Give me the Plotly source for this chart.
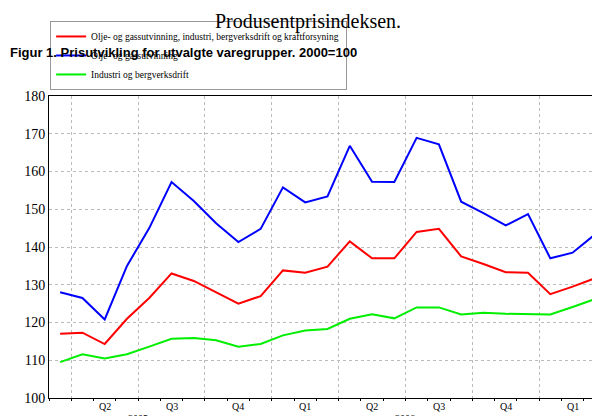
import plotly.graph_objects as go

months = list(range(25))  # Mar 2005 .. Mar 2007
red = [117, 117.3, 114.3, 121, 126.5, 133, 131, 128, 125, 127, 133.8, 133.2, 134.8, 141.5, 137, 137, 144, 144.8, 137.5, 135.5, 133.3, 133.2, 127.5, 129.5, 131.7]
blue = [128, 126.5, 120.8, 135, 145, 157.2, 152.2, 146.3, 141.3, 144.8, 155.8, 151.8, 153.4, 166.8, 157.3, 157.2, 168.9, 167.2, 152, 149, 145.7, 148.7, 137, 138.5, 143.3]
green = [109.5, 111.6, 110.5, 111.6, 113.6, 115.7, 115.9, 115.3, 113.6, 114.3, 116.6, 117.9, 118.3, 121, 122.2, 121.1, 124, 124, 122.1, 122.6, 122.3, 122.1, 122.1, 124.1, 126.2]
names = ["Olje- og gassutvinning, industri, bergverksdrift og kraftforsyning",
         "Olje- og gassutvinning", "Industri og bergverksdrift"]
qlabels = ["Q2", "Q3", "Q4", "Q1", "Q2", "Q3", "Q4", "Q1"]
years = ["2005", "2006"]

x = [m + 0.5 for m in months]
fig = go.Figure()
for vals, col, nm in [(red, "#ff0000", names[0]), (blue, "#0000ff", names[1]), (green, "#00ee00", names[2])]:
    fig.add_trace(go.Scatter(x=x, y=vals, mode="lines", name=nm, line=dict(color=col, width=2)))

fig.update_layout(
    width=600, height=416, plot_bgcolor="white", paper_bgcolor="white",
    margin=dict(l=41, r=2, t=88, b=26, autoexpand=False),
    font=dict(family="Liberation Serif", size=11, color="black"),
    title=dict(text="Produsentprisindeksen.", x=0.5, xanchor="center", y=0.985, yanchor="top",
               font=dict(family="Liberation Serif", size=20)),
    legend=dict(orientation="h", x=0.002, y=1.02, xanchor="left", yanchor="bottom",
                entrywidth=250, entrywidthmode="pixels", bordercolor="#999", borderwidth=1,
                font=dict(family="Liberation Serif", size=9.5), tracegroupgap=0,
                itemwidth=30),
    showlegend=True,
)
fig.update_xaxes(range=[0, 25], tickmode="array", tickvals=[1, 4, 7, 10, 13, 16, 19, 22],
                 ticktext=[""] * 8, showgrid=True, gridcolor="#bbbbbb", griddash="dot",
                 showline=True, linecolor="black", ticks="outside", ticklen=4,
                 minor=dict(tickvals=list(range(25)), ticks="outside", ticklen=2, tickcolor="black"),
                 zeroline=False, mirror=True)
fig.update_yaxes(range=[100, 180], dtick=10, showgrid=True, gridcolor="#bbbbbb", griddash="dot",
                 showline=True, linecolor="black", mirror=True, ticks="", zeroline=False,
                 tickfont=dict(size=14))
for i, q in enumerate(qlabels):
    fig.add_annotation(x=2.5 + 3 * i, y=0, xref="x", yref="paper", yanchor="top", yshift=-1,
                       text=q, showarrow=False, font=dict(size=10))
for xv, yr in zip([4, 16], years):
    fig.add_annotation(x=xv, y=0, xref="x", yref="paper", yanchor="top", yshift=-13,
                       text=yr, showarrow=False, font=dict(size=10))
fig.add_annotation(x=0, y=1, xref="paper", yref="paper", xanchor="left", yanchor="bottom",
                   text="<b>Figur 1. Prisutvikling for utvalgte varegrupper. 2000=100</b>",
                   showarrow=False, font=dict(family="Liberation Sans", size=13), xshift=-41, yshift=34)
fig.write_html("out.html")
